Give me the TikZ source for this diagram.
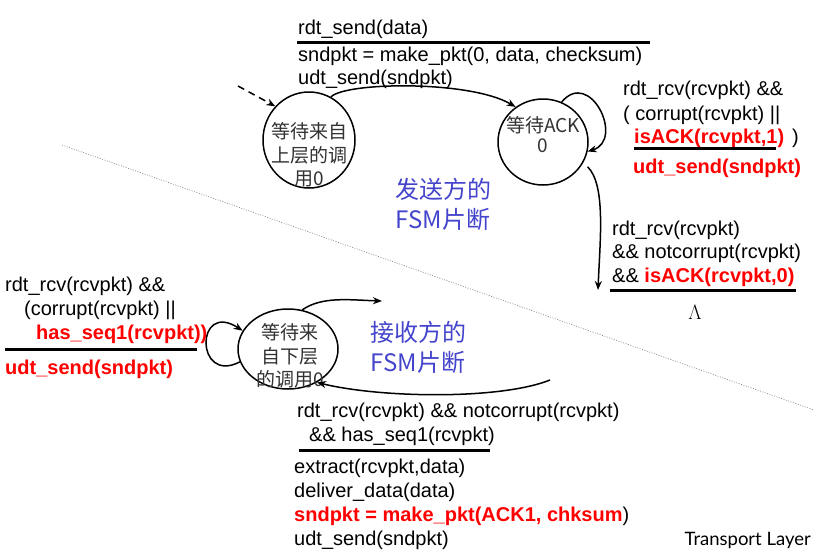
\documentclass[tikz,border=0pt]{standalone}
\usepackage{xcolor}
\usepackage{amsmath}
\usepackage{fontspec}
\setmainfont{Liberation Sans}
\newfontfamily\cjk{Noto Sans CJK SC}
\newfontfamily\layerfont{Lato}
\usepackage{tikz}
\usetikzlibrary{arrows.meta,shapes.geometric}

\definecolor{fsmblue}{RGB}{68,68,204}
\definecolor{statetext}{RGB}{50,50,50}
\newcommand{\rb}[1]{\textcolor{red}{\textbf{#1}}}

\tikzset{
  txt/.style={anchor=base west, inner sep=0pt, font=\fontsize{20}{24}\selectfont},
  state/.style={draw, ellipse, line width=1.5pt, inner sep=0pt},
  stlabel/.style={align=center, inner sep=0pt, text=statetext, font=\cjk\fontsize{19}{23.5}\selectfont},
  fsm/.style={align=center, inner sep=0pt, text=fsmblue, font=\cjk\fontsize{24}{30}\selectfont},
  trans/.style={line width=1.5pt, -{Stealth[length=9pt,width=7pt]}},
  rule/.style={line width=3pt}
}

\begin{document}
\begin{tikzpicture}[x=1pt,y=-1pt]
    \useasboundingbox (0,0) rectangle (814,552);

    % sender states
    \node[state, minimum width=92pt, minimum height=96pt] (wait0) at (309,140) {};
    \node[state, minimum width=90pt, minimum height=86pt] (ack0) at (543,142) {};
    \node[stlabel] (wait0txt) at (309,155) {等待来自\\上层的调\\用0};
    \node[stlabel, font=\cjk\fontsize{19}{20}\selectfont] (ack0txt) at (543,135) {等待ACK\\0};

    % receiver state
    \node[state, minimum width=100pt, minimum height=80pt] (wait1) at (288,349) {};
    \node[stlabel] (wait1txt) at (290,356) {等待来\\自下层\\的调用0};

    % split line
    \draw[gray, line width=0.6pt, dash pattern=on 1pt off 1.5pt] (62,145) -- (814,410);

    % sender transitions
    \coordinate (init) at (238,86);
    \draw[line width=1.5pt, dash pattern=on 7pt off 5pt, -{Stealth[length=9pt,width=7pt]}] (init) -- (wait0.135);
    \draw[trans] (wait0.63) .. controls (345,82) and (470,80) .. (ack0.128);
    \draw[trans] (ack0.65) .. controls (590,68) and (625,140) .. (ack0.-12);
    \coordinate (ackdown) at (598,290);
    \draw[trans, shorten <=6pt] (ack0.-27) .. controls (606,185) and (600,240) .. (ackdown);

    \node[txt] (snd1) at (298,34) {rdt\_send(data)};
    \draw[rule] (297,42) -- (650,42);
    \node[txt] (snd2) at (298,61) {sndpkt = make\_pkt(0, data, checksum)};
    \node[txt] (snd3) at (298,84) {udt\_send(sndpkt)};

    \node[txt] (lp1) at (623,95) {rdt\_rcv(rcvpkt) \&\&};
    \node[txt] (lp2) at (623,120) {( corrupt(rcvpkt) ||};
    \node[txt] (lp3) at (634,143) {\rb{isACK(rcvpkt,1)}};
    \node[txt] (lp3b) at (792,143) {)};
    \draw[rule] (634,148) -- (776,148);
    \node[txt] (lp4) at (633,173) {\rb{udt\_send(sndpkt)}};

    \node[txt] (ok1) at (612,235) {rdt\_rcv(rcvpkt)};
    \node[txt] (ok2) at (612,258) {\&\& notcorrupt(rcvpkt)};
    \node[txt] (ok3) at (612,282) {\&\& \rb{isACK(rcvpkt,0)}};
    \draw[rule] (610,290) -- (796,290);
    \node (lambda) at (695,312) {\fontsize{20}{24}\selectfont$\Lambda$};

    \node[fsm] (sender) at (443,204) {发送方的\\FSM片断};

    % receiver transitions
    \draw[trans] (wait1.195) .. controls (195,385) and (195,300) .. (wait1.158);
    \coordinate (rcvout) at (382,301);
    \draw[trans] (wait1.70) .. controls (322,296) and (350,300) .. (rcvout);
    \coordinate (rcvin) at (550,380);
    \draw[trans] (rcvin) .. controls (500,400) and (380,398) .. (wait1.-49);

    \node[txt] (dup1) at (5,291) {rdt\_rcv(rcvpkt) \&\&};
    \node[txt] (dup2) at (24,315) {(corrupt(rcvpkt) ||};
    \node[txt] (dup3) at (36,339) {\rb{has\_seq1(rcvpkt))}};
    \draw[rule] (5,349) -- (197,349);
    \node[txt] (dup4) at (5,374) {\rb{udt\_send(sndpkt)}};

    \node[fsm] (receiver) at (418,347) {接收方的\\FSM片断};

    \node[txt] (new1) at (297,417) {rdt\_rcv(rcvpkt) \&\& notcorrupt(rcvpkt)};
    \node[txt] (new2) at (309,441) {\&\& has\_seq1(rcvpkt)};
    \draw[rule] (299,450) -- (490,450);
    \node[txt] (new3) at (294,473) {extract(rcvpkt,data)};
    \node[txt] (new4) at (294,497) {deliver\_data(data)};
    \node[txt] (new5) at (294,521) {\rb{sndpkt = make\_pkt(ACK1, chksum})};
    \node[txt] (new6) at (294,545) {udt\_send(sndpkt)};

    \node[anchor=base east, inner sep=0pt, font=\layerfont\fontsize{18.5}{22}\selectfont] (layer) at (811,545) {Transport Layer};
\end{tikzpicture}
\end{document}
